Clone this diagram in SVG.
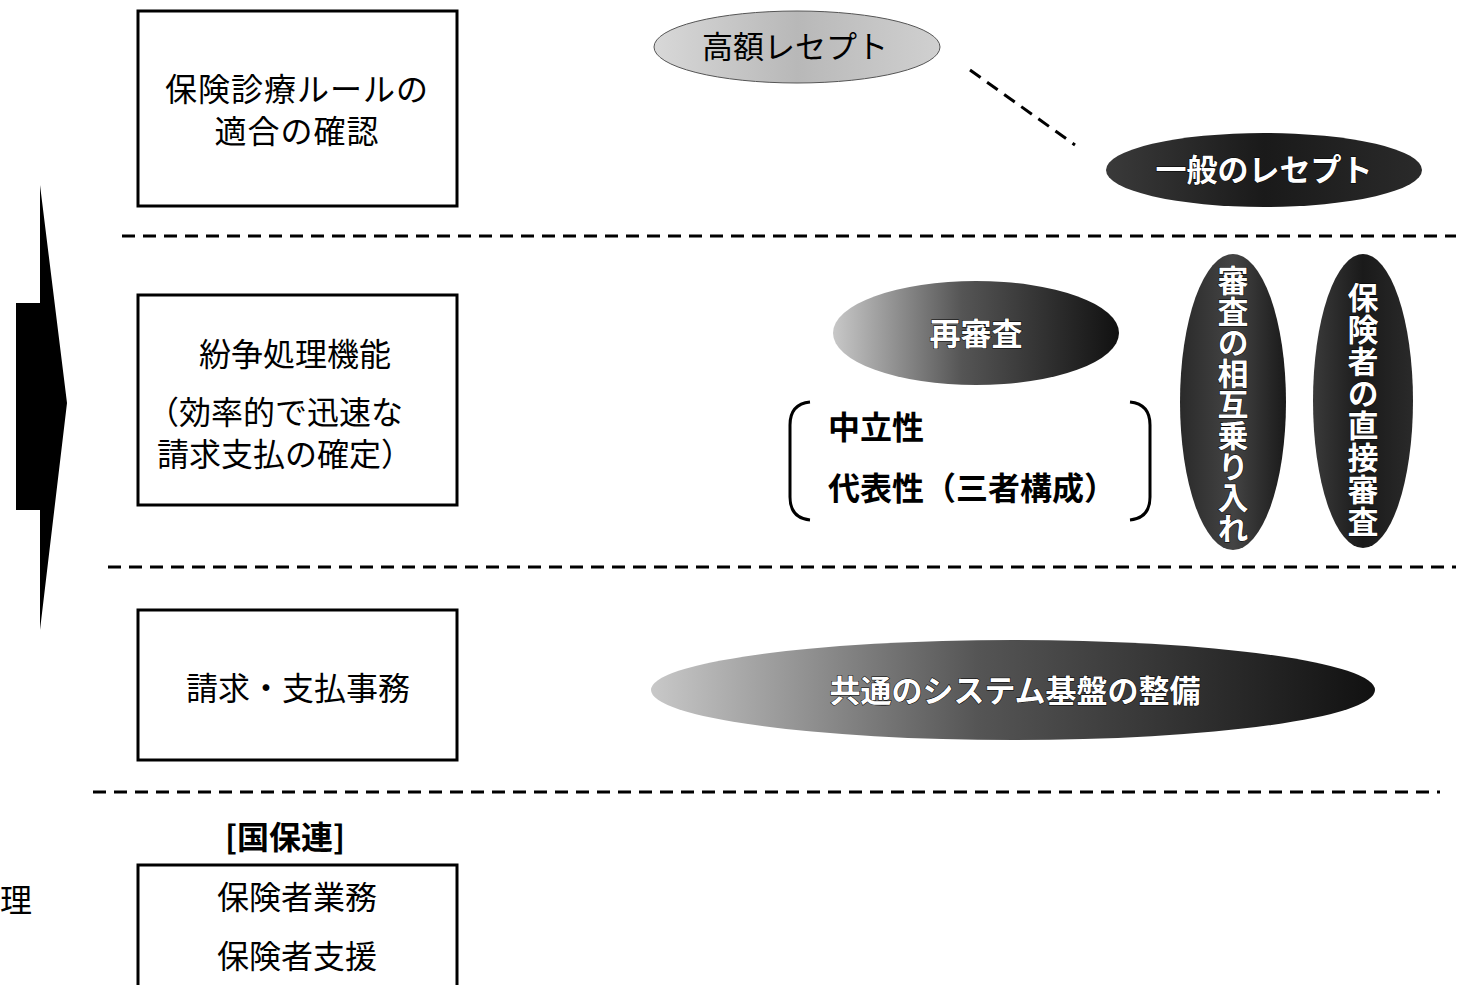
<svg xmlns="http://www.w3.org/2000/svg" width="1461" height="985" viewBox="0 0 1461 985">
<style>
.box{fill:#fff;stroke:#000;stroke-width:3}
.t{font-family:"Noto Sans CJK JP","Noto Sans CJK SC",sans-serif;font-size:32px;fill:#000}
.b{font-weight:bold}
.dash{stroke:#000;stroke-width:3;stroke-dasharray:13 8;fill:none}
.wt{font-family:"Noto Sans CJK JP",sans-serif;font-size:31px;fill:#fff;stroke:#000;stroke-width:1;paint-order:stroke;font-weight:bold}
.bt{font-family:"Noto Sans CJK JP",sans-serif;font-size:31px;fill:#000}
</style>
<defs>
<linearGradient id="gLight" x1="0" y1="0" x2="1" y2="0">
<stop offset="0" stop-color="#d8d8d8"/><stop offset="0.5" stop-color="#b8b8b8"/><stop offset="1" stop-color="#d0d0d0"/>
</linearGradient>
<linearGradient id="gDark" x1="0" y1="0" x2="1" y2="0">
<stop offset="0" stop-color="#3a3a3a"/><stop offset="0.5" stop-color="#1a1a1a"/><stop offset="1" stop-color="#2a2a2a"/>
</linearGradient>
<linearGradient id="gMix" x1="0" y1="0" x2="1" y2="0">
<stop offset="0" stop-color="#c8c8c8"/><stop offset="0.45" stop-color="#555"/><stop offset="1" stop-color="#111"/>
</linearGradient>
<linearGradient id="gV" x1="0" y1="0" x2="1" y2="0">
<stop offset="0" stop-color="#2a2a2a"/><stop offset="0.5" stop-color="#444"/><stop offset="1" stop-color="#1a1a1a"/>
</linearGradient>
</defs>
<rect width="1461" height="985" fill="#fff"/>

<g id="arrow">
<polygon points="40,185 67,403 40,630 40,510 16,510 16,303 40,303" fill="#000"/>
</g>

<g id="dividers">
<line class="dash" x1="122" y1="236" x2="1456" y2="236"/>
<line class="dash" x1="108" y1="567" x2="1456" y2="567"/>
<line class="dash" x1="93" y1="792" x2="1440" y2="792"/>
</g>

<g id="connectors">
<line class="dash" x1="970" y1="70" x2="1075" y2="145" stroke-dasharray="12 9"/>
</g>

<g id="box1">
<rect class="box" x="138" y="11" width="319" height="195"/>
<text class="t" x="297" y="101" text-anchor="middle" font-size="31" letter-spacing="1">保険診療ルールの</text>
<text class="t" x="297" y="143" text-anchor="middle" font-size="31" letter-spacing="1">適合の確認</text>
</g>

<g id="box2">
<rect class="box" x="138" y="295" width="319" height="210"/>
<text class="t" x="295" y="366" text-anchor="middle">紛争処理機能</text>
<text class="t" x="147" y="424">（効率的で迅速な</text>
<text class="t" x="157" y="466">請求支払の確定）</text>
</g>

<g id="box3">
<rect class="box" x="138" y="610" width="319" height="150"/>
<text class="t" x="298" y="700" text-anchor="middle">請求・支払事務</text>
</g>

<g id="box4">
<text class="t b" x="285" y="849" text-anchor="middle">[国保連]</text>
<rect class="box" x="138" y="865" width="319" height="130"/>
<text class="t" x="297" y="909" text-anchor="middle">保険者業務</text>
<text class="t" x="297" y="968" text-anchor="middle">保険者支援</text>
</g>

<g id="label-ri">
<text class="t" x="0" y="912" font-size="28">理</text>
</g>

<g id="e-kogaku">
<ellipse cx="797" cy="47" rx="143" ry="36" fill="url(#gLight)" stroke="#555" stroke-width="1"/>
<text class="bt" x="795" y="58" text-anchor="middle">高額レセプト</text>
</g>

<g id="e-ippan">
<ellipse cx="1264" cy="170" rx="158" ry="37" fill="url(#gDark)"/>
<text class="wt" x="1264" y="181" text-anchor="middle">一般のレセプト</text>
</g>

<g id="e-saishinsa">
<ellipse cx="976" cy="333" rx="143" ry="52" fill="url(#gMix)"/>
<text class="wt" x="976" y="345" text-anchor="middle" font-size="32">再審査</text>
</g>

<g id="e-sogo">
<ellipse cx="1233" cy="402" rx="53" ry="148" fill="url(#gV)"/>
<text class="wt" x="1233" y="404" text-anchor="middle" style="writing-mode:vertical-rl" font-size="31">審査の相互乗り入れ</text>
</g>

<g id="e-chokusetsu">
<ellipse cx="1363" cy="401" rx="50" ry="147" fill="url(#gDark)"/>
<text class="wt" x="1363" y="410" text-anchor="middle" style="writing-mode:vertical-rl" font-size="33" letter-spacing="1">保険者の直接審査</text>
</g>

<g id="e-kyotsu">
<ellipse cx="1013" cy="690" rx="362" ry="50" fill="url(#gMix)"/>
<text class="wt" x="1015" y="702" text-anchor="middle" font-size="32">共通のシステム基盤の整備</text>
</g>

<g id="bracket">
<path d="M810,402 Q790,404 790,425 L790,497 Q790,518 810,520" fill="none" stroke="#000" stroke-width="3"/>
<path d="M1130,402 Q1150,404 1150,425 L1150,497 Q1150,518 1130,520" fill="none" stroke="#000" stroke-width="3"/>
<text class="t b" x="828" y="439">中立性</text>
<text class="t b" x="828" y="500">代表性（三者構成）</text>
</g>
</svg>
